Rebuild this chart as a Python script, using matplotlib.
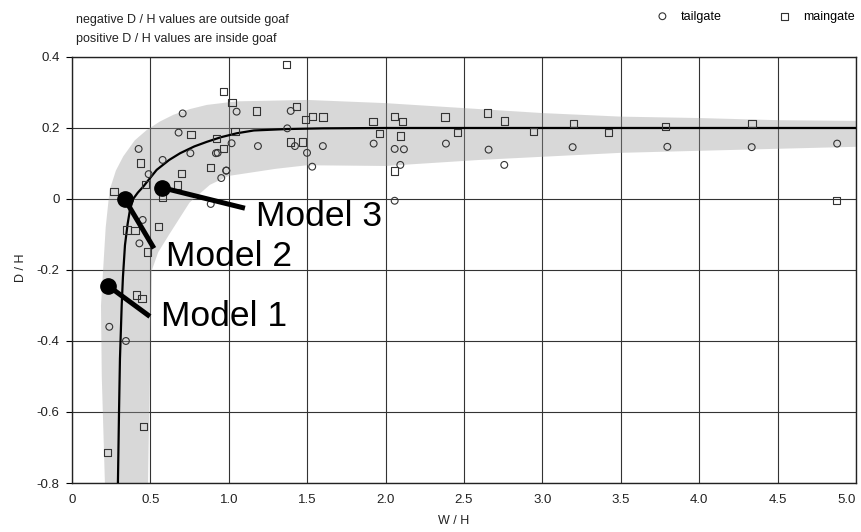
import matplotlib
matplotlib.use("Agg")
import matplotlib.pyplot as plt

plt.rcParams["font.family"] = ["Liberation Sans", "DejaVu Sans"]

# tailgate measurements (W/H, D/H)
tail_x = [0.706, 0.68, 0.425, 0.578, 0.489, 0.755, 0.929, 1.018, 1.05, 0.984,
          0.952, 0.885, 0.451, 0.43, 0.238, 0.344, 1.395, 1.373, 1.186, 1.422,
          1.499, 1.532, 1.60, 1.924, 2.058, 2.058, 2.117, 2.094, 2.385, 2.657,
          2.757, 3.193, 3.797, 4.335, 4.88, 0.918, 0.984]
tail_y = [0.241, 0.187, 0.141, 0.110, 0.070, 0.129, 0.130, 0.157, 0.246, 0.080,
          0.059, -0.014, -0.059, -0.125, -0.36, -0.40, 0.248, 0.199, 0.149, 0.149,
          0.130, 0.091, 0.149, 0.156, 0.141, -0.005, 0.140, 0.096, 0.156, 0.139,
          0.096, 0.146, 0.147, 0.146, 0.156, 0.129, 0.080]

# maingate measurements (W/H, D/H)
main_x = [0.965, 1.02, 1.04, 0.76, 0.965, 0.438, 0.70, 0.885, 0.468, 0.674,
          0.268, 0.578, 0.351, 0.402, 0.553, 0.48, 0.923, 0.412, 0.446, 0.455,
          0.228, 1.178, 1.433, 1.49, 1.532, 1.60, 1.37, 1.395, 1.47, 1.92,
          1.96, 2.058, 2.107, 2.094, 2.058, 2.38, 2.46, 2.65, 2.757, 2.945,
          3.2, 3.42, 3.786, 4.337, 4.877]
main_y = [0.302, 0.271, 0.190, 0.182, 0.143, 0.101, 0.072, 0.089, 0.040, 0.039,
          0.022, 0.006, -0.087, -0.089, -0.078, -0.149, 0.171, -0.27, -0.281, -0.641,
          -0.714, 0.248, 0.260, 0.223, 0.232, 0.231, 0.378, 0.161, 0.161, 0.219,
          0.184, 0.232, 0.219, 0.177, 0.079, 0.231, 0.187, 0.242, 0.220, 0.190,
          0.212, 0.187, 0.204, 0.213, -0.005]

# fitted trend line
fit_x = [0.293, 0.300, 0.306, 0.317, 0.325, 0.338, 0.355, 0.37, 0.39, 0.42,
         0.455, 0.50, 0.54, 0.62, 0.69, 0.78, 0.86, 0.95, 1.05, 1.16,
         1.37, 1.6, 2.0, 5.0]
fit_y = [-0.80, -0.60, -0.45, -0.30, -0.22, -0.13, -0.07, -0.03, 0.0, 0.018,
         0.035, 0.06, 0.082, 0.11, 0.129, 0.148, 0.161, 0.174, 0.185, 0.193,
         0.197, 0.199, 0.200, 0.200]

# scatter envelope (outer edge then inner edge back)
band_outer_x = [0.21, 0.19, 0.185, 0.20, 0.215, 0.24, 0.28, 0.327, 0.40, 0.476,
                0.56, 0.646, 0.75, 0.86, 1.05, 1.5, 2.0, 2.5, 3.0, 3.5,
                4.0, 4.5, 5.0]
band_outer_y = [-0.80, -0.50, -0.30, -0.19, -0.08, 0.025, 0.08, 0.12, 0.165, 0.194,
                0.218, 0.237, 0.253, 0.265, 0.275, 0.279, 0.270, 0.256, 0.242, 0.232,
                0.228, 0.222, 0.220]
band_inner_x = [5.0, 4.2, 3.5, 2.6, 2.0, 1.5, 1.3, 1.0, 0.88, 0.75,
                0.62, 0.55, 0.51, 0.50, 0.485]
band_inner_y = [0.147, 0.138, 0.130, 0.110, 0.093, 0.095, 0.085, 0.065, 0.040, -0.010,
                -0.10, -0.15, -0.20, -0.40, -0.80]

# model annotations: marker, leader end, label position
model_names = ["Model 1", "Model 2", "Model 3"]
model_x = [0.232, 0.336, 0.574]
model_y = [-0.245, 0.0, 0.032]
leader_x = [0.497, 0.523, 1.103]
leader_y = [-0.331, -0.139, -0.026]
label_x = [0.57, 0.60, 1.173]
label_y = [-0.331, -0.162, -0.049]

x_ticks = [0, 0.5, 1.0, 1.5, 2.0, 2.5, 3.0, 3.5, 4.0, 4.5, 5.0]
x_tick_labels = ["0", "0.5", "1.0", "1.5", "2.0", "2.5", "3.0", "3.5", "4.0", "4.5", "5.0"]
y_ticks = [-0.8, -0.6, -0.4, -0.2, 0, 0.2, 0.4]
y_tick_labels = ["-0.8", "-0.6", "-0.4", "-0.2", "0", "0.2", "0.4"]

fig = plt.figure(figsize=(8.62, 5.32), dpi=100)
ax = fig.add_axes([0.0835, 0.0921, 0.9095, 0.8008])

ax.fill(band_outer_x + band_inner_x, band_outer_y + band_inner_y,
        color="#9a9a9a", alpha=0.38, lw=0, zorder=1)

ax.grid(True, color="#333333", lw=0.8, zorder=0)
ax.set_axisbelow(True)

ax.plot(fit_x, fit_y, color="black", lw=1.6, zorder=3)

ax.scatter(tail_x, tail_y, s=24, marker="o", facecolors="none",
           edgecolors="#333333", linewidths=0.8, zorder=4, label="tailgate")
ax.scatter(main_x, main_y, s=28, marker="s", facecolors="none",
           edgecolors="#333333", linewidths=0.8, zorder=4, label="maingate")

for i in range(3):
    ax.plot([model_x[i], leader_x[i]], [model_y[i], leader_y[i]],
            color="black", lw=3.6, solid_capstyle="butt", zorder=5)
    ax.plot(model_x[i], model_y[i], "o", color="black", ms=11, zorder=6)
    ax.text(label_x[i], label_y[i], model_names[i], fontsize=25.5,
            ha="left", va="center", zorder=6)

ax.set_xlim(0, 5)
ax.set_ylim(-0.8, 0.4)
ax.set_xticks(x_ticks)
ax.set_xticklabels(x_tick_labels)
ax.get_xticklabels()[-1].set_horizontalalignment("right")
ax.set_yticks(y_ticks)
ax.set_yticklabels(y_tick_labels)
ax.tick_params(axis="x", length=0, pad=8, labelsize=9.5, labelcolor="#222222")
ax.tick_params(axis="y", length=4, direction="out", pad=5, labelsize=9.5,
               labelcolor="#222222")
for s in ax.spines.values():
    s.set_color("#222222")
    s.set_linewidth(1.0)

ax.set_xlabel("W / H", fontsize=9, color="#222222")
ax.xaxis.set_label_coords(0.487, -0.076)
ax.set_ylabel("D / H", fontsize=9, color="#222222")
ax.yaxis.set_label_coords(-0.058, 0.505)

ax.legend(loc="center right", bbox_to_anchor=(1.013, 1.095), ncol=2, frameon=False,
          fontsize=9, columnspacing=4.0, handletextpad=0.5, markerscale=1.0)

fig.text(76 / 862, 1 - 20 / 532, "negative D / H values are outside goaf",
         fontsize=9, va="center", ha="left", color="#222222")
fig.text(76 / 862, 1 - 39 / 532, "positive D / H values are inside goaf",
         fontsize=9, va="center", ha="left", color="#222222")

fig.savefig("out.png", dpi=100)
